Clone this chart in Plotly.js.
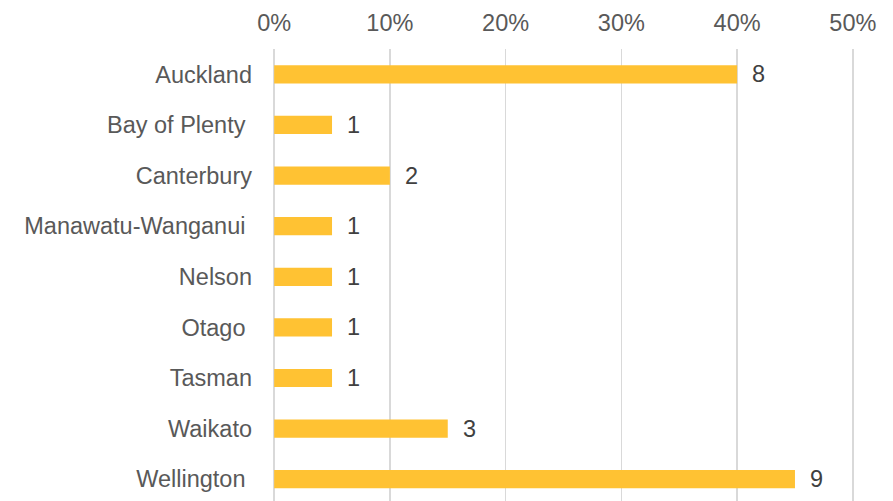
<!DOCTYPE html>
<html>
<head>
<meta charset="utf-8">
<script src="https://cdn.plot.ly/plotly-3.0.1.min.js"></script>
<style>html,body{margin:0;padding:0;background:#fff;}#chart{width:893px;height:501px;}</style>
</head>
<body>
<div id="chart"></div>
<script>
// Regions (trailing spaces kept as in the original labels)
var regions = ["Auckland", "Bay of Plenty\u00a0", "Canterbury", "Manawatu-Wanganui\u00a0", "Nelson", "Otago\u00a0", "Tasman", "Waikato", "Wellington\u00a0"];
// Share of responses (%)
var shares = [40, 5, 10, 5, 5, 5, 5, 15, 45];
// Count labels shown next to bars
var counts = [8, 1, 2, 1, 1, 1, 1, 3, 9];
var xTickVals = [0, 10, 20, 30, 40, 50];
var xTickText = ["0%", "10%", "20%", "30%", "40%", "50%"];

var FONT = "Liberation Sans, Arial, sans-serif";

var trace = {
  type: "bar",
  orientation: "h",
  y: regions,
  x: shares,
  width: 0.36,
  marker: {color: "#FFC233"},
  hoverinfo: "none"
};

var annotations = regions.map(function (r, i) {
  return {
    x: shares[i], y: r, xref: "x", yref: "y",
    text: String(counts[i]), showarrow: false,
    xanchor: "left", yanchor: "middle", xshift: 13,
    font: {family: FONT, size: 23.5, color: "#404040"}
  };
});

var layout = {
  width: 893, height: 501,
  margin: {l: 273, r: 39, t: 49, b: 0, pad: 0},
  paper_bgcolor: "#ffffff", plot_bgcolor: "#ffffff",
  showlegend: false,
  font: {family: FONT, size: 23.5, color: "#595959"},
  xaxis: {
    side: "top", range: [-0.1, 50.1], autorange: false,
    tickmode: "array", tickvals: xTickVals, ticktext: xTickText,
    showgrid: true, gridcolor: "#D9D9D9", gridwidth: 1.5,
    zeroline: false, showline: false, ticks: "",
    ticklabelstandoff: 12,
    tickfont: {family: FONT, size: 23.5, color: "#595959"}
  },
  yaxis: {
    type: "category", autorange: false, range: [8.43, -0.5],
    showgrid: false, zeroline: false, showline: false, ticks: "",
    ticklabelstandoff: 20,
    tickfont: {family: FONT, size: 23.5, color: "#595959"}
  },
  annotations: annotations
};

Plotly.newPlot("chart", [trace], layout, {displayModeBar: false, staticPlot: true});
</script>
</body>
</html>
